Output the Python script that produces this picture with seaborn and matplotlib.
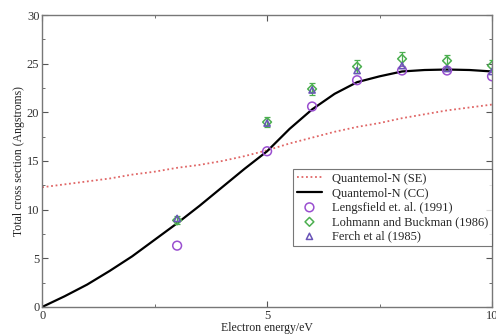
import matplotlib
matplotlib.use('Agg')
import matplotlib.pyplot as plt
import seaborn as sns
import pandas as pd
from matplotlib.ticker import MultipleLocator

# curves
energy_curve = [0, 0.5, 1, 1.5, 2, 2.5, 3, 3.5, 4, 4.5, 5, 5.5, 6, 6.5, 7, 7.5, 8, 8.5, 9, 9.5, 10]
se_values = [12.3, 12.6, 12.9, 13.2, 13.6, 13.9, 14.3, 14.6, 15.0, 15.5, 16.1, 16.8, 17.4, 18.0, 18.5, 18.9, 19.4, 19.8, 20.2, 20.5, 20.8]
cc_values = [0.0, 1.1, 2.3, 3.7, 5.2, 6.9, 8.6, 10.4, 12.3, 14.2, 16.0, 18.3, 20.3, 21.9, 23.1, 23.7, 24.2, 24.35, 24.4, 24.35, 24.2]

# experiments
energy_exp = [3, 5, 6, 7, 8, 9, 10]
lengsfield = [6.3, 16.0, 20.6, 23.3, 24.3, 24.3, 23.7]
lohmann = [8.9, 19.0, 22.4, 24.7, 25.5, 25.3, 24.8]
lohmann_err = [0.4, 0.5, 0.6, 0.7, 0.7, 0.6, 0.6]
ferch = [9.1, 18.9, 22.3, 24.3, 24.8, 24.5, 24.2]

sns.set_style('ticks')
plt.rcParams['font.family'] = ['Liberation Serif', 'DejaVu Serif']

fig = plt.figure(figsize=(4.96, 3.34), dpi=100)
ax = fig.add_axes([0.085, 0.081, 0.907, 0.874])

curves = pd.DataFrame({'E': energy_curve, 'SE': se_values, 'CC': cc_values})
sns.lineplot(data=curves, x='E', y='SE', ax=ax, color='#e06666', linestyle=(0, (1, 1.5)),
             linewidth=1.3, label='Quantemol-N (SE)')
sns.lineplot(data=curves, x='E', y='CC', ax=ax, color='black', linewidth=1.6,
             label='Quantemol-N (CC)')

ax.errorbar(energy_exp, lohmann, yerr=lohmann_err, fmt='none', ecolor='#4caf50',
            elinewidth=0.9, capsize=2.5, capthick=0.9, zorder=3)
sns.scatterplot(x=energy_exp, y=lengsfield, ax=ax, marker='o', s=40, facecolor='none',
                edgecolor='#9a4fd0', linewidth=1.1, label='Lengsfield et. al. (1991)', zorder=4)
sns.scatterplot(x=energy_exp, y=lohmann, ax=ax, marker='D', s=20, facecolor='none',
                edgecolor='#4caf50', linewidth=1.1, label='Lohmann and Buckman (1986)', zorder=4)
sns.scatterplot(x=energy_exp, y=ferch, ax=ax, marker='^', s=20, facecolor='none',
                edgecolor='#6a55b8', linewidth=1.1, label='Ferch et al (1985)', zorder=5)

ax.set_xlim(0, 10)
ax.set_ylim(0, 30)
ax.xaxis.set_major_locator(MultipleLocator(5))
ax.xaxis.set_minor_locator(MultipleLocator(2.5))
ax.yaxis.set_major_locator(MultipleLocator(5))
ax.yaxis.set_minor_locator(MultipleLocator(2.5))
ax.tick_params(which='both', direction='in', top=True, right=True, colors='#555555',
               labelcolor='#333333', labelsize=9, pad=2)
ax.tick_params(which='major', length=4)
ax.tick_params(which='minor', length=2.5)
for sp in ax.spines.values():
    sp.set_color('#777777')
    sp.set_linewidth(1.0)

ax.set_xlabel('Electron energy/eV', fontsize=8.5, color='#222222', labelpad=0)
ax.set_ylabel('Total cross section (Angstroms)', fontsize=8.5, color='#222222', labelpad=1)

leg = ax.legend(loc='upper left', bbox_to_anchor=(0.558, 0.473), fontsize=9, frameon=True,
                fancybox=False, edgecolor='#555555', handlelength=2.0, handletextpad=0.8,
                borderpad=0.3, labelspacing=0.2, borderaxespad=0)
leg.get_frame().set_linewidth(0.8)

fig.savefig('out.png', dpi=100)
